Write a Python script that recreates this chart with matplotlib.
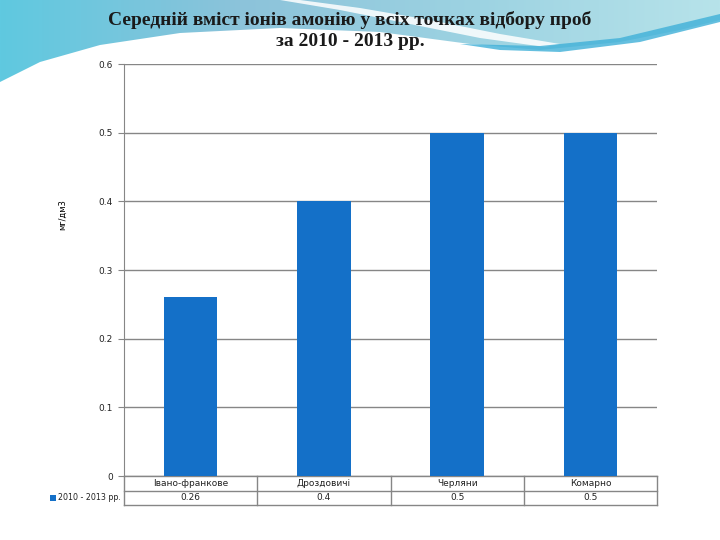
import matplotlib
matplotlib.use("Agg")
import matplotlib.pyplot as plt
import numpy as np
from matplotlib.patches import Polygon, Rectangle

categories = ["Івано-франкове", "Дроздовичі", "Черляни", "Комарно"]
values = [0.26, 0.4, 0.5, 0.5]
value_labels = ["0.26", "0.4", "0.5", "0.5"]
yticks = [0, 0.1, 0.2, 0.3, 0.4, 0.5, 0.6]
ytick_labels = ["0", "0.1", "0.2", "0.3", "0.4", "0.5", "0.6"]
series_name = "2010 - 2013 рр."
title_line1 = "Середній вміст іонів амонію у всіх точках відбору проб"
title_line2 = "за 2010 - 2013 рр."
ylabel = "мг/дм3"

W, H = 720, 540
fig = plt.figure(figsize=(7.2, 5.4), dpi=100)
fig.patch.set_facecolor("white")

bg = fig.add_axes([0, 0, 1, 1], zorder=0)
bg.set_xlim(0, W)
bg.set_ylim(H, 0)
bg.axis("off")

grad = np.linspace(0, 1, 256).reshape(1, -1)
cmap = matplotlib.colors.LinearSegmentedColormap.from_list("b", ["#5fc9e0", "#8cc3da", "#9dd3e2", "#b7e3ea"])
im = bg.imshow(grad, extent=[0, W, 100, 0], cmap=cmap, aspect="auto", zorder=0)
top_pts = [(0, 0), (0, 82), (40, 62), (100, 45), (180, 33), (280, 28), (380, 32), (470, 44),
           (540, 50), (620, 42), (680, 30), (720, 20), (720, 0)]
clip = Polygon(top_pts, closed=True, transform=bg.transData, facecolor="none", edgecolor="none")
bg.add_patch(clip)
im.set_clip_path(clip)

sw = [(300, 0), (360, 8), (430, 20), (500, 34), (560, 44), (545, 47), (480, 38), (410, 24), (340, 10), (280, 0)]
bg.add_patch(Polygon(sw, closed=True, facecolor="white", edgecolor="none", alpha=0.85, zorder=1))
band = [(460, 44), (540, 46), (620, 38), (720, 14), (720, 22), (640, 42), (560, 52), (500, 50)]
bg.add_patch(Polygon(band, closed=True, facecolor="#3fb0d8", edgecolor="none", alpha=0.8, zorder=1))

fig.text(350 / W, 1 - 20 / H, title_line1, ha="center", va="center", fontsize=14,
         fontweight="bold", family="Liberation Serif", color="#1a1a1a", zorder=5)
fig.text(350 / W, 1 - 42 / H, title_line2, ha="center", va="center", fontsize=14,
         fontweight="bold", family="Liberation Serif", color="#1a1a1a", zorder=5)

left, right, top, bottom = 124, 657, 64, 476
ax = fig.add_axes([left / W, 1 - bottom / H, (right - left) / W, (bottom - top) / H], zorder=2)
ax.patch.set_alpha(0)
x = np.arange(len(categories))
ax.bar(x, values, width=0.4, color="#1470c8", zorder=3)
ax.set_xlim(-0.5, len(categories) - 0.5)
ax.set_ylim(0, 0.6)
ax.set_yticks(yticks)
ax.set_yticklabels(ytick_labels, fontsize=6.5, color="#222222")
ax.tick_params(axis="y", length=4, color="#868686", pad=4)
ax.tick_params(axis="x", length=0, labelbottom=False)
ax.grid(axis="y", color="#868686", linewidth=1, zorder=1)
for s in ["top", "right", "bottom"]:
    ax.spines[s].set_visible(False)
ax.spines["left"].set_color("#868686")
ax.set_ylabel(ylabel, fontsize=6)
ax.yaxis.set_label_coords((67 - left) / (right - left), (bottom - 215) / (bottom - top))

row_h = 14.5 / (bottom - top)
tr = ax.transAxes
lc = "#868686"
for i in range(3):
    yy = -i * row_h
    ax.plot([0, 1], [yy, yy], transform=tr, color=lc, lw=1, clip_on=False)
ax.plot([0, 0], [0, -2 * row_h], transform=tr, color=lc, lw=1, clip_on=False)
for j in range(1, len(categories) + 1):
    xx = j / len(categories)
    ax.plot([xx, xx], [0, -2 * row_h], transform=tr, color=lc, lw=1, clip_on=False)
for j, (c, v) in enumerate(zip(categories, value_labels)):
    xc = (j + 0.5) / len(categories)
    ax.text(xc, -0.5 * row_h, c, transform=tr, ha="center", va="center", fontsize=6.5, color="#222222")
    ax.text(xc, -1.5 * row_h, v, transform=tr, ha="center", va="center", fontsize=6.5, color="#222222")
fig.text(58 / W, 1 - 497.5 / H, series_name, ha="left", va="center", fontsize=5.7, color="#222222", zorder=5)
fig.add_artist(Rectangle((50 / W, 1 - 501 / H), 6 / W, 6 / H, facecolor="#1470c8", edgecolor="none",
                         transform=fig.transFigure, zorder=5))

fig.savefig("out.png", dpi=100)
